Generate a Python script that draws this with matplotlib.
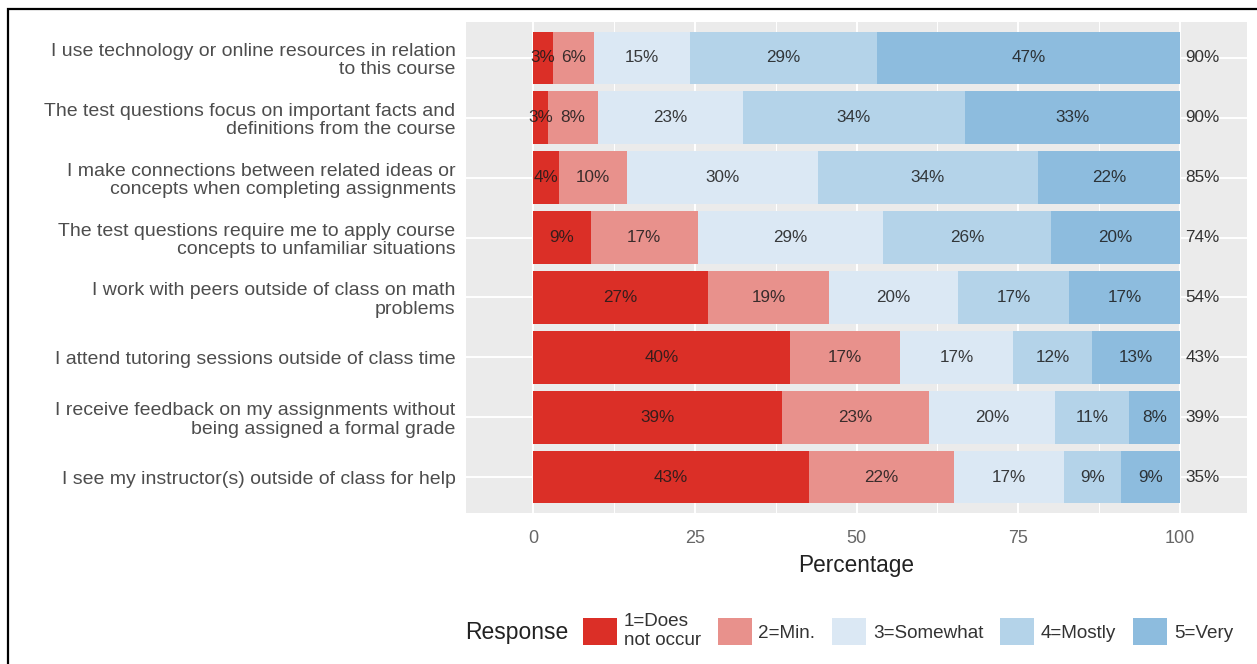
import numpy as np
import matplotlib
matplotlib.use("Agg")
import matplotlib.pyplot as plt
from matplotlib.patches import Patch, Rectangle

plt.rcParams['font.family'] = ['Liberation Sans', 'DejaVu Sans']

# survey items, top to bottom
items = [
    "I use technology or online resources in relation\nto this course",
    "The test questions focus on important facts and\ndefinitions from the course",
    "I make connections between related ideas or\nconcepts when completing assignments",
    "The test questions require me to apply course\nconcepts to unfamiliar situations",
    "I work with peers outside of class on math\nproblems",
    "I attend tutoring sessions outside of class time",
    "I receive feedback on my assignments without\nbeing assigned a formal grade",
    "I see my instructor(s) outside of class for help",
]

responses = ["1=Does\nnot occur", "2=Min.", "3=Somewhat", "4=Mostly", "5=Very"]
colors = ["#DB2F27", "#E8918C", "#DBE8F4", "#B4D3E9", "#8DBCDE"]

# segment widths (percent), one list per response level
r1 = [3.1, 2.3, 4.0, 8.9, 27.0, 39.7, 38.5, 42.6]
r2 = [6.3, 7.7, 10.5, 16.6, 18.8, 17.1, 22.7, 22.4]
r3 = [14.8, 22.4, 29.5, 28.6, 19.9, 17.4, 19.5, 17.0]
r4 = [28.9, 34.3, 34.0, 26.0, 17.2, 12.2, 11.4, 8.9]
r5 = [46.9, 33.3, 22.0, 19.9, 17.1, 13.6, 7.9, 9.1]

# labels printed in the segments
lab1 = [3, 3, 4, 9, 27, 40, 39, 43]
lab2 = [6, 8, 10, 17, 19, 17, 23, 22]
lab3 = [15, 23, 30, 29, 20, 17, 20, 17]
lab4 = [29, 34, 34, 26, 17, 12, 11, 9]
lab5 = [47, 33, 22, 20, 17, 13, 8, 9]

# share answering 3-5, shown right of the bars
positive = [90, 90, 85, 74, 54, 43, 39, 35]

W, H = 1257, 664
fig = plt.figure(figsize=(W / 100, H / 100), dpi=100)
ax = fig.add_axes([466 / W, 1 - 513 / H, (1247 - 466) / W, (513 - 22) / H])
ax.set_facecolor("#EBEBEB")
for s in ax.spines.values():
    s.set_visible(False)

n = len(items)
y = np.arange(n)
segments = [r1, r2, r3, r4, r5]
labels = [lab1, lab2, lab3, lab4, lab5]

left = np.zeros(n)
for vals, labs, col, name in zip(segments, labels, colors, responses):
    vals = np.array(vals)
    ax.barh(y, vals, left=left, height=0.88, color=col, label=name, zorder=2)
    for yi, l, v, lb in zip(y, left, vals, labs):
        ax.text(l + v / 2, yi, f"{lb}%", ha="center", va="center",
                fontsize=12.3, color="#1a1a1a", alpha=0.85, zorder=3)
    left = left + vals

for yi, p in zip(y, positive):
    ax.text(100.8, yi, f"{p}%", ha="left", va="center", fontsize=12.3,
            color="#333333", zorder=3)

ax.set_xlim(-10.36, 110.36)
ax.set_ylim(n - 0.4, -0.6)
ax.set_xticks([0, 25, 50, 75, 100])
ax.set_xticks([12.5, 37.5, 62.5, 87.5], minor=True)
ax.set_yticks(y)
ax.set_yticklabels(items, fontsize=14, color="#4D4D4D", linespacing=1.12)
ax.tick_params(axis="x", labelsize=13, labelcolor="#666666", length=0, pad=12)
ax.tick_params(axis="y", length=0, pad=7.5)
ax.tick_params(axis="x", which="minor", length=0)
ax.grid(True, which="major", color="white", linewidth=1.4, zorder=0)
ax.grid(True, which="minor", axis="x", color="white", linewidth=0.7, zorder=0)
ax.set_axisbelow(True)
ax.set_xlabel("Percentage", fontsize=16.3, color="#222222", labelpad=5)

# legend along the bottom, title on the left
fig.text(465 / W, 1 - 632 / H, "Response", fontsize=16.5, color="#222222",
         ha="left", va="center")
handles = [Patch(facecolor=c, edgecolor="none", label=r)
           for c, r in zip(colors, responses)]
fig.legend(handles=handles, loc="center left", ncol=5,
           bbox_to_anchor=(583 / W, 1 - 631 / H), frameon=False,
           fontsize=13.6, handlelength=1.8, handleheight=1.8,
           handletextpad=0.35, columnspacing=0.9, borderpad=0,
           borderaxespad=0, labelcolor="#333333", labelspacing=0)

# outer frame (right and bottom edges fall outside the image)
fig.patches.append(Rectangle((8 / W, -0.2), 1.2, 1.2 - 9 / H,
                             transform=fig.transFigure, fill=False,
                             edgecolor="black", linewidth=1.6))

fig.savefig("out.png", dpi=100)
